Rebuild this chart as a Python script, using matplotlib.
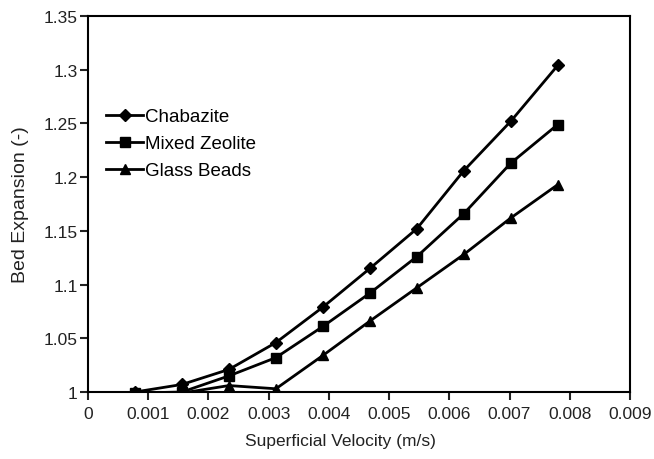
import matplotlib
matplotlib.use("Agg")
import matplotlib.pyplot as plt

plt.rcParams['font.family'] = ['Liberation Sans', 'DejaVu Sans']

# superficial velocity (m/s)
velocity = [0.00078, 0.00156, 0.00234, 0.00312, 0.0039, 0.00468, 0.00546, 0.00624, 0.00702, 0.0078]

# bed expansion (-)
chabazite = [1.000, 1.007, 1.021, 1.046, 1.079, 1.115, 1.152, 1.206, 1.252, 1.304]
mixed_zeolite = [0.999, 1.000, 1.015, 1.032, 1.061, 1.092, 1.126, 1.166, 1.213, 1.249]
glass_beads = [1.000, 0.999, 1.006, 1.003, 1.034, 1.066, 1.097, 1.128, 1.162, 1.193]

xticks = [0, 0.001, 0.002, 0.003, 0.004, 0.005, 0.006, 0.007, 0.008, 0.009]
xtick_labels = ['0', '0.001', '0.002', '0.003', '0.004', '0.005', '0.006', '0.007', '0.008', '0.009']
yticks = [1, 1.05, 1.1, 1.15, 1.2, 1.25, 1.3, 1.35]
ytick_labels = ['1', '1.05', '1.1', '1.15', '1.2', '1.25', '1.3', '1.35']

fig = plt.figure(figsize=(6.54, 4.60), dpi=100)
ax = fig.add_axes([88 / 654, 1 - 393 / 460, 542 / 654, 376 / 460])

ax.plot(velocity, chabazite, color='black', lw=2, marker='D', ms=6, label='Chabazite')
ax.plot(velocity, mixed_zeolite, color='black', lw=2, marker='s', ms=7, label='Mixed Zeolite')
ax.plot(velocity, glass_beads, color='black', lw=2, marker='^', ms=7.5, label='Glass Beads')

ax.set_xlim(0, 0.009)
ax.set_ylim(1, 1.35)
ax.set_xticks(xticks)
ax.set_xticklabels(xtick_labels)
ax.set_yticks(yticks)
ax.set_yticklabels(ytick_labels)
ax.tick_params(direction='out', length=6, width=1.5, labelsize=12.5, colors='#222222')
ax.tick_params(axis='x', pad=4)
ax.tick_params(axis='y', pad=1.5)
for s in ax.spines.values():
    s.set_linewidth(1.5)

ax.set_xlabel('Superficial Velocity (m/s)', fontsize=12.5, color='#222222')
ax.set_ylabel('Bed Expansion (-)', fontsize=14, color='#222222')
ax.xaxis.set_label_coords(0.465, -0.108)
ax.yaxis.set_label_coords(-0.109, 0.5)

leg = ax.legend(loc='upper left', bbox_to_anchor=(0.019, 0.775), frameon=False,
                fontsize=13.5, handlelength=2.0, handletextpad=0.1,
                labelspacing=0.53, borderaxespad=0)

fig.savefig('out.png', dpi=100)
